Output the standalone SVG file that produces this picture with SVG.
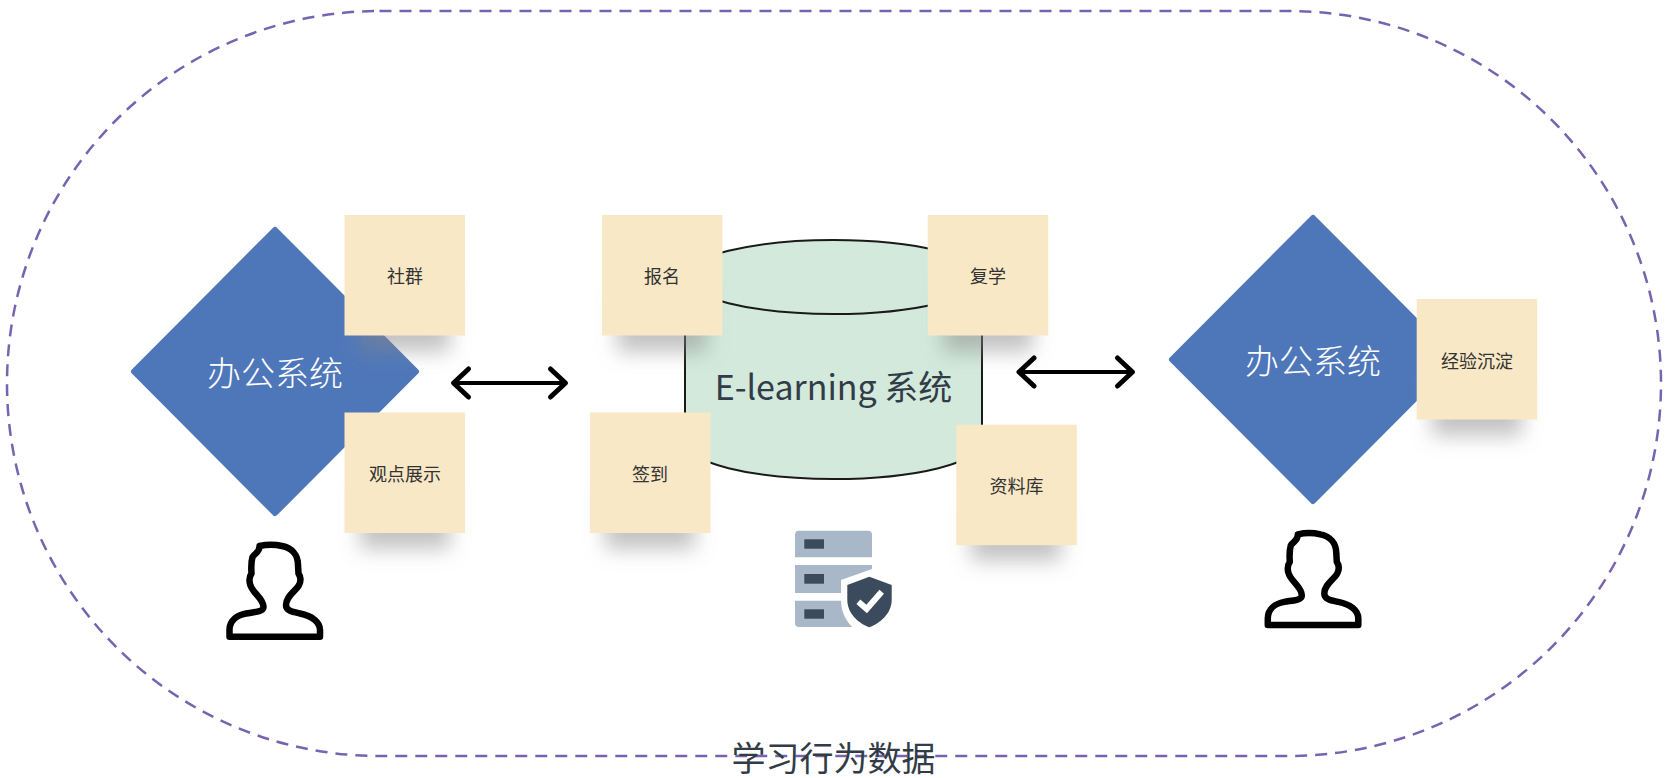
<svg xmlns="http://www.w3.org/2000/svg" width="1670" height="778" viewBox="0 0 1670 778">
<style>
text{font-family:"Noto Sans CJK SC","Noto Sans",sans-serif;text-anchor:middle}
.sticky{fill:#f9e8c6}
.shadow{fill:#888;fill-opacity:.5;filter:url(#blur)}
.st{font-size:18px;fill:#333}
.dia{fill:#4e77ba;stroke:#4e77ba;stroke-width:6;stroke-linejoin:round}
.dt{font-size:34px;font-weight:300;fill:#fff}
.user{fill:#fff;stroke:#000;stroke-width:6.5;stroke-linejoin:round}
.conn{fill:none;stroke:#000;stroke-width:4;marker-start:url(#head);marker-end:url(#head)}
#caption{font-family:"Liberation Sans","Noto Sans CJK SC",sans-serif;font-size:34px;fill:#323c47}
</style>
<defs>
<filter id="blur" x="-40%" y="-40%" width="180%" height="180%"><feGaussianBlur stdDeviation="10"/></filter>
<marker id="head" markerUnits="userSpaceOnUse" markerWidth="26" markerHeight="36" refX="20" refY="18" orient="auto-start-reverse" viewBox="0 0 26 36"><path d="M5,4 L20,18 L5,32" fill="none" stroke="#000" stroke-width="5" stroke-linecap="round" stroke-linejoin="round"/></marker>
<path id="person" d="M229.500,636.700 V630 C229.500,620 238,615 246,613.500 C254,612 263.500,612 263.500,607 C263.500,598 252,593 250,584 C249,580 249,577 251.500,573.500 C251,566 251,562 252.500,557 C255,553 260,552 259.500,546 C266,544.500 276,544.500 282,546 C292,548 298,555 298,565 L298.500,573.500 C301,577 301,581 299,585 C296,591 286,596 286,605 C286,611 293,612 300,613.500 C312,616 320,622 320,630 V636.700 Z"/>
</defs>
<rect id="boundary" x="7" y="11" width="1654" height="745" rx="372.500" ry="372.500" fill="none" stroke="#7764b0" stroke-width="2.500" stroke-dasharray="12 8"/>
<g id="diamond-left"><path class="dia" d="M275,230 L416,371.500 L275,513 L134,371.500 Z"/><text class="dt" x="275" y="386">办公系统</text></g>
<g id="diamond-right"><path class="dia" d="M1313,218 L1454,359.500 L1313,501 L1172,359.500 Z"/><text class="dt" x="1313" y="374">办公系统</text></g>
<g id="cylinder"><path d="M685,277 A148.500,37 0 0 1 982,277 V442 A148.500,37 0 0 1 685,442 Z" fill="#d2e9db" stroke="#1a1a1a" stroke-width="2"/><path d="M685,277 A148.500,37 0 0 0 982,277" fill="none" stroke="#1a1a1a" stroke-width="2"/><text x="833.500" y="400" font-size="34" fill="#323c47">E-learning 系统</text></g>
<g id="user-left"><use href="#person" class="user"/></g>
<g id="user-right"><use href="#person" class="user" transform="translate(1038.300,-11.600)"/></g>
<g id="server-icon">
<path d="M795,557.300 V534.700 Q795,530.700 799,530.700 H868 Q872,530.700 872,534.700 V557.300 Z" fill="#a9b8c8"/>
<rect x="795" y="565" width="77" height="28" fill="#a9b8c8"/>
<path d="M795,600.700 H872 V627 H799 Q795,627 795,623 Z" fill="#a9b8c8"/>
<path d="M872,569 L841,580 V600 C841,612 846,621 853,628 H875 V569 Z" fill="#fff"/>
<rect x="804.300" y="539.300" width="19.700" height="9.400" fill="#3b4a5c"/>
<rect x="804.300" y="574" width="19.700" height="9.700" fill="#3b4a5c"/>
<rect x="804.300" y="609.300" width="19.700" height="9.400" fill="#3b4a5c"/>
<path d="M869.300,576.700 L891.700,585 V600 C891.700,613.300 880,623.300 869.300,627.300 C858.300,623.300 847.300,613.300 847.300,600 V585 Z" fill="#3b4a5c"/>
<path d="M858.300,601.700 L866.700,609 L881.700,591.700" fill="none" stroke="#fff" stroke-width="6"/>
</g>
<g id="sticky-shequn"><rect class="shadow" x="360" y="292" width="90" height="60"/><rect class="sticky" x="344.500" y="215" width="120.500" height="120.500"/><text class="st" x="405" y="283">社群</text></g>
<g id="sticky-guandian"><rect class="shadow" x="360" y="489" width="90" height="60"/><rect class="sticky" x="344.500" y="412.500" width="120.500" height="120.500"/><text class="st" x="405" y="481">观点展示</text></g>
<g id="sticky-baoming"><rect class="shadow" x="617" y="292" width="90" height="60"/><rect class="sticky" x="602" y="215" width="120.500" height="120.500"/><text class="st" x="662" y="283">报名</text></g>
<g id="sticky-fuxue"><rect class="shadow" x="943" y="292" width="90" height="60"/><rect class="sticky" x="927.700" y="215" width="120.500" height="120.500"/><text class="st" x="988" y="283">复学</text></g>
<g id="sticky-qiandao"><rect class="shadow" x="605" y="489" width="90" height="60"/><rect class="sticky" x="590" y="412.500" width="120.500" height="120.500"/><text class="st" x="650" y="481">签到</text></g>
<g id="sticky-ziliao"><rect class="shadow" x="971" y="501" width="90" height="60"/><rect class="sticky" x="956.300" y="424.700" width="120.500" height="120.500"/><text class="st" x="1016.500" y="493">资料库</text></g>
<g id="sticky-jingyan"><rect class="shadow" x="1432" y="376" width="90" height="60"/><rect class="sticky" x="1416.700" y="299" width="120.500" height="120.500"/><text class="st" x="1477" y="368">经验沉淀</text></g>
<g id="connectors">
<line class="conn" x1="453.500" y1="383" x2="565.500" y2="383"/>
<line class="conn" x1="1019" y1="372" x2="1132.500" y2="372"/>
</g>
<text id="caption" x="833.500" y="770.500">学习行为数据</text>
</svg>
